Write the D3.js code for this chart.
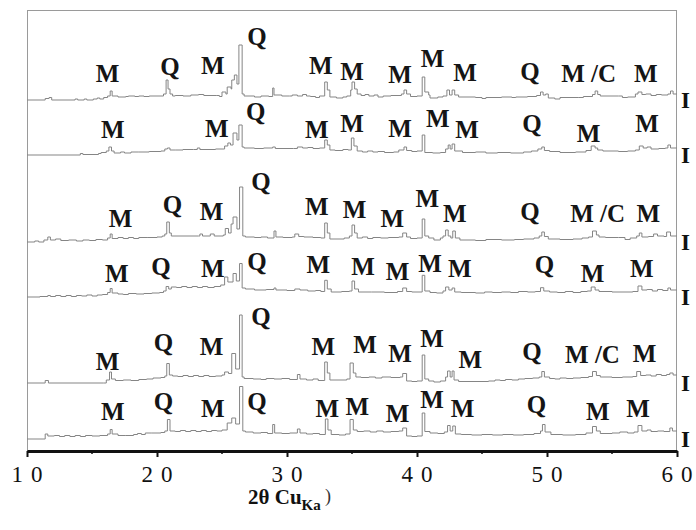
<!DOCTYPE html>
<html>
<head>
<meta charset="utf-8">
<script src="https://cdn.jsdelivr.net/npm/d3@7/dist/d3.min.js"></script>
<style>
  body { margin: 0; background: #fff; }
  svg { display: block; }
</style>
</head>
<body>
<svg id="chart" width="696" height="530"></svg>
<script>
// XRD patterns: [2θ (deg), intensity (counts above the pattern's own zero)]
const pattern1 = [[10.0,0],[11.4,15],[11.7,25],[11.9,0],[13.7,10],[13.9,0],[14.4,10],[14.6,0],[15.1,10],[15.4,20],[15.6,10],[15.9,25],[16.2,40],[16.4,90],[16.55,40],[17.0,30],[17.6,35],[17.8,40],[18.3,35],[18.6,40],[19.0,35],[19.4,40],[20.0,40],[20.5,60],[20.7,200],[20.85,110],[21.0,60],[21.2,40],[21.4,45],[22.0,40],[22.6,50],[23.2,55],[23.6,45],[24.6,45],[24.8,35],[25.0,80],[25.3,60],[25.4,130],[25.7,110],[25.75,200],[25.95,250],[26.15,160],[26.3,550],[26.55,60],[26.7,40],[27.5,30],[28.0,40],[28.6,35],[28.9,120],[29.0,50],[29.6,40],[30.2,40],[30.4,50],[30.8,40],[31.2,55],[31.5,40],[31.8,35],[32.2,25],[32.5,40],[32.9,180],[33.1,100],[33.3,30],[33.8,20],[34.3,30],[34.6,40],[34.9,100],[35.0,180],[35.2,110],[35.4,60],[35.7,45],[36.0,55],[36.3,40],[36.7,50],[37.0,30],[37.4,40],[38.0,45],[38.8,60],[39.0,100],[39.2,60],[39.5,35],[40.0,40],[40.4,230],[40.6,80],[40.9,50],[41.0,20],[41.6,30],[42.0,40],[42.3,100],[42.5,50],[42.7,100],[42.9,50],[43.2,30],[44.5,25],[45.0,15],[45.3,25],[46.5,30],[47.3,25],[47.6,30],[48.5,35],[49.2,45],[49.5,80],[49.7,50],[49.9,60],[50.1,20],[50.6,10],[51.0,25],[52.4,25],[52.8,35],[53.5,55],[53.7,90],[53.9,55],[54.1,40],[55.5,40],[55.8,25],[56.2,30],[56.8,60],[57.0,80],[57.3,55],[57.6,60],[58.0,45],[58.4,55],[58.8,50],[59.3,60],[59.5,90],[59.7,60],[60.0,60]];

const pattern2 = [[10.0,0],[14.0,0],[14.1,15],[14.3,5],[15.5,15],[15.7,25],[16.1,40],[16.3,80],[16.5,40],[16.7,20],[17.2,30],[17.5,20],[18.0,30],[18.6,30],[19.4,35],[20.3,40],[20.6,60],[20.8,70],[21.0,50],[21.4,50],[22.0,55],[22.8,55],[23.1,70],[23.3,55],[24.5,60],[25.2,90],[25.45,120],[25.65,100],[25.85,220],[26.15,150],[26.3,300],[26.55,80],[26.7,70],[27.5,65],[28.2,70],[28.9,80],[29.1,65],[30.5,65],[30.8,80],[31.2,70],[31.6,75],[32.0,65],[32.5,70],[32.9,150],[33.1,100],[33.3,50],[33.7,45],[34.3,55],[34.7,50],[34.95,170],[35.15,90],[35.4,40],[35.8,30],[36.2,40],[36.6,30],[37.0,35],[37.5,25],[38.2,30],[38.6,50],[39.0,80],[39.2,45],[39.6,35],[40.0,40],[40.4,200],[40.6,25],[41.2,20],[41.8,25],[42.2,60],[42.4,100],[42.55,60],[42.7,110],[42.9,40],[43.5,25],[44.5,30],[45.3,20],[46.2,25],[47.2,20],[48.2,30],[48.8,40],[49.3,60],[49.6,80],[49.8,45],[50.2,35],[51.0,25],[52.2,30],[53.0,45],[53.4,90],[53.7,70],[53.9,50],[54.3,40],[55.5,35],[56.2,40],[56.8,50],[57.1,90],[57.4,70],[57.7,80],[58.0,60],[58.6,65],[59.1,70],[59.3,100],[59.5,70],[60.0,70]];

const pattern3 = [[10.0,0],[10.6,10],[10.9,0],[11.3,20],[11.6,50],[11.8,20],[12.2,30],[12.6,15],[13.2,20],[13.8,10],[14.3,20],[14.8,15],[15.3,25],[15.8,20],[16.2,40],[16.4,80],[16.55,35],[17.0,45],[17.4,35],[17.8,45],[18.2,35],[18.6,45],[19.3,45],[20.0,50],[20.4,60],[20.6,80],[20.75,200],[20.95,90],[21.1,60],[22.0,60],[23.2,60],[23.3,80],[23.5,60],[24.0,60],[24.1,80],[24.4,60],[25.1,70],[25.25,135],[25.5,90],[25.7,180],[25.85,250],[26.15,130],[26.35,550],[26.6,60],[26.8,50],[27.5,45],[28.0,50],[28.5,40],[29.0,110],[29.15,50],[29.7,45],[30.4,50],[30.6,80],[30.9,55],[31.3,50],[32.0,45],[32.6,40],[32.9,190],[33.1,90],[33.3,30],[34.0,30],[34.4,40],[34.8,60],[35.0,170],[35.2,90],[35.4,40],[35.8,50],[36.2,35],[36.6,45],[37.2,40],[37.8,45],[38.6,50],[38.9,90],[39.2,50],[39.5,35],[40.0,40],[40.4,230],[40.6,60],[40.9,40],[41.3,20],[41.8,40],[42.0,60],[42.2,120],[42.4,60],[42.6,40],[42.75,110],[42.95,40],[43.3,20],[44.5,15],[45.3,25],[46.5,20],[47.5,25],[48.2,30],[49.0,40],[49.4,60],[49.6,100],[49.8,55],[50.1,30],[51.0,25],[52.0,30],[52.7,40],[53.2,50],[53.5,110],[53.8,70],[54.0,50],[54.5,45],[55.5,45],[56.0,25],[56.4,40],[56.9,60],[57.1,90],[57.3,50],[57.8,55],[58.2,80],[58.5,60],[59.0,55],[59.2,100],[59.5,60],[60.0,60]];

const pattern4 = [[10.0,0],[11.0,5],[11.6,15],[11.8,5],[12.2,15],[12.6,5],[13.0,15],[13.4,5],[13.8,15],[14.2,10],[14.6,20],[15.0,10],[15.4,20],[15.8,25],[16.2,45],[16.4,85],[16.55,40],[17.0,30],[17.4,25],[17.8,35],[18.4,30],[19.0,35],[19.6,40],[20.2,45],[20.5,60],[20.7,105],[20.9,80],[21.1,100],[21.5,95],[21.9,105],[22.3,95],[22.7,105],[23.1,95],[23.5,105],[23.9,95],[24.4,105],[24.9,120],[25.2,200],[25.45,150],[25.85,235],[26.1,160],[26.35,335],[26.55,90],[26.8,80],[27.5,70],[28.4,75],[29.0,90],[29.15,70],[30.0,65],[30.6,80],[31.0,70],[31.6,60],[32.2,65],[32.6,55],[32.9,167],[33.1,80],[33.4,50],[34.2,55],[34.8,60],[35.0,160],[35.2,80],[35.5,50],[36.5,50],[37.5,45],[38.5,55],[38.9,90],[39.2,55],[39.6,50],[40.0,50],[40.4,217],[40.6,60],[41.0,45],[41.5,40],[42.0,60],[42.2,100],[42.45,70],[42.7,90],[42.9,50],[43.4,45],[44.5,40],[45.2,50],[45.8,45],[46.5,50],[47.2,45],[47.8,55],[48.5,50],[49.1,55],[49.5,93],[49.75,60],[50.2,50],[50.8,45],[51.4,55],[52.0,45],[52.6,55],[53.1,60],[53.4,100],[53.7,70],[54.0,55],[55.0,50],[56.0,50],[56.6,55],[57.0,110],[57.3,70],[57.7,75],[58.1,60],[58.5,75],[58.9,65],[59.3,90],[59.5,70],[60.0,70]];

const pattern5 = [[10.0,0],[11.4,25],[11.65,0],[15.9,0],[16.1,30],[16.35,110],[16.5,40],[16.8,25],[17.4,30],[18.0,25],[18.6,35],[19.2,40],[19.7,50],[20.3,55],[20.6,70],[20.75,195],[20.95,80],[21.2,70],[21.6,65],[22.0,75],[22.4,65],[22.8,75],[23.2,65],[23.6,75],[24.0,65],[24.5,70],[25.0,80],[25.2,110],[25.5,95],[25.75,295],[26.05,140],[26.35,680],[26.55,60],[26.7,45],[27.4,40],[28.0,35],[28.4,45],[29.0,40],[29.6,45],[30.2,35],[30.8,85],[31.0,40],[31.5,30],[32.0,40],[32.4,25],[32.9,210],[33.1,100],[33.3,30],[34.0,30],[34.6,40],[34.85,200],[35.1,100],[35.3,60],[35.7,55],[36.3,60],[36.8,50],[37.3,60],[38.0,55],[38.7,60],[38.9,95],[39.2,20],[39.6,15],[40.0,20],[40.4,280],[40.6,40],[40.9,20],[41.3,10],[41.8,20],[42.2,60],[42.35,120],[42.55,60],[42.7,120],[42.85,30],[43.2,15],[45.0,15],[45.5,20],[46.0,30],[46.4,25],[46.8,35],[47.3,30],[47.8,40],[48.3,45],[48.9,50],[49.4,60],[49.6,115],[49.8,60],[50.2,45],[50.6,40],[51.0,50],[51.5,45],[52.0,50],[52.6,55],[53.2,65],[53.5,115],[53.8,75],[54.1,60],[55.0,55],[55.8,60],[56.6,65],[56.9,115],[57.2,75],[57.6,80],[58.0,70],[58.4,85],[58.8,75],[59.2,85],[59.45,100],[59.7,80],[60.0,80]];

const pattern6 = [[10.0,0],[11.4,50],[11.6,30],[12.1,35],[12.5,25],[12.9,35],[13.3,25],[13.7,35],[14.1,25],[14.5,35],[15.0,30],[15.6,35],[16.2,50],[16.4,95],[16.55,50],[17.0,35],[17.6,35],[18.2,45],[18.5,55],[18.8,45],[19.1,60],[19.6,60],[20.3,65],[20.6,80],[20.8,195],[21.0,80],[21.4,75],[21.8,85],[22.2,75],[22.6,85],[23.0,75],[23.4,85],[23.8,75],[24.2,85],[24.6,80],[25.0,90],[25.4,160],[25.75,210],[26.05,150],[26.35,525],[26.6,80],[26.8,70],[27.4,60],[28.0,65],[28.5,55],[28.9,145],[29.05,60],[29.6,55],[30.2,60],[30.8,100],[31.0,60],[31.5,50],[32.0,55],[32.5,45],[32.95,200],[33.15,90],[33.4,45],[34.0,40],[34.5,50],[34.85,195],[35.1,90],[35.4,75],[35.9,80],[36.4,70],[36.9,80],[37.4,70],[38.0,75],[38.6,80],[38.9,110],[39.2,30],[39.6,25],[40.0,30],[40.4,260],[40.6,75],[41.0,60],[41.6,55],[42.1,70],[42.35,135],[42.55,80],[42.75,130],[42.95,50],[43.4,45],[44.2,40],[45.0,45],[45.8,40],[46.6,45],[47.4,40],[48.2,45],[49.0,55],[49.5,80],[49.65,145],[49.85,70],[50.3,45],[51.2,40],[52.2,45],[53.0,60],[53.5,125],[53.8,80],[54.1,55],[55.0,60],[55.6,70],[56.2,60],[56.7,70],[57.0,135],[57.3,80],[57.7,90],[58.0,75],[58.5,80],[59.0,75],[59.45,110],[59.65,80],[60.0,80]];

const patterns = [pattern1, pattern2, pattern3, pattern4, pattern5, pattern6];

// vertical stacking offset of each pattern (counts)
const offsets = [3510, 2960, 2090, 1540, 680, 120];

// sample names at the right edge of each pattern
const sampleNames = ["I", "I", "I", "I", "I", "I"];

// phase markers per pattern: [phase, 2θ, intensity level]
const phases1 = [["M",16.2,180],["Q",21.0,250],["M",24.3,260],["Q",27.7,550],["M",32.6,260],["M",35.0,200],["M",38.7,170],["M",41.2,330],["M",43.7,190],["Q",48.7,200],["M /C",53.2,180],["M",57.6,180]];
const phases2 = [["M",16.6,170],["M",24.6,180],["Q",27.6,350],["M",32.3,170],["M",35.0,230],["M",38.7,180],["M",41.6,280],["M",43.85,170],["Q",48.85,230],["M",53.2,130],["M",57.7,230]];
const phases3 = [["M",17.2,150],["Q",21.2,290],["M",24.2,220],["Q",28.0,520],["M",32.3,270],["M",35.2,240],["M",38.1,150],["M",40.8,350],["M",42.9,200],["Q",48.7,220],["M /C",53.9,200],["M",57.8,200]];
const phases4 = [["M",16.9,150],["Q",20.3,220],["M",24.3,200],["Q",27.7,270],["M",32.4,240],["M",35.85,220],["M",38.5,170],["M",41.0,250],["M",43.3,200],["Q",49.8,240],["M",53.5,150],["M",57.3,200]];
const phases5 = [["M",16.2,130],["Q",20.5,320],["M",24.2,280],["Q",28.0,580],["M",32.8,280],["M",36.0,300],["M",38.7,210],["M",41.15,360],["M",44.1,150],["Q",48.85,230],["M /C",53.5,200],["M",57.5,210]];
const phases6 = [["M",16.6,190],["Q",20.5,290],["M",24.3,220],["Q",27.7,290],["M",33.1,220],["M",35.4,240],["M",38.5,170],["M",41.15,310],["M",43.5,220],["Q",49.2,260],["M",53.9,190],["M",57.0,220]];
const phaseSets = [phases1, phases2, phases3, phases4, phases5, phases6];

// x axis ticks
const majorTicks = [10, 20, 30, 40, 50, 60];
const minorTicks = [15, 25, 35, 45, 55];

const svg = d3.select("#chart");
const serif = "'Liberation Serif', 'Times New Roman', serif";

const x = d3.scaleLinear().domain([10, 60]).range([27, 677]);
const y = d3.scaleLinear().domain([0, 4410]).range([451, 10]);

// plot frame (top, left, right)
const frame = svg.append("g").attr("stroke", "#9a9a9a").attr("stroke-width", 1).attr("fill", "none");
frame.append("line").attr("x1", x(10)).attr("x2", x(60)).attr("y1", y(4410) + 0.5).attr("y2", y(4410) + 0.5);
frame.append("line").attr("x1", x(10) + 0.5).attr("x2", x(10) + 0.5).attr("y1", y(4410)).attr("y2", y(0));
frame.append("line").attr("x1", x(60) - 0.5).attr("x2", x(60) - 0.5).attr("y1", y(4410)).attr("y2", y(0));

// diffraction patterns
const line = d3.line().curve(d3.curveStepAfter);
patterns.forEach((p, i) => {
  line.x(d => x(d[0])).y(d => y(offsets[i] + d[1]));
  svg.append("path")
    .datum(p)
    .attr("d", line)
    .attr("fill", "none")
    .attr("stroke", "#858585")
    .attr("stroke-width", 1);
});

// phase markers
phaseSets.forEach((set, i) => {
  svg.append("g")
    .selectAll("text")
    .data(set)
    .join("text")
    .attr("x", d => x(d[1]))
    .attr("y", d => y(offsets[i] + d[2]))
    .attr("text-anchor", "middle")
    .attr("font-family", serif)
    .attr("font-weight", "bold")
    .attr("font-size", 25)
    .attr("fill", "#151515")
    .text(d => d[0]);
});

// sample names
svg.append("g")
  .selectAll("text")
  .data(sampleNames)
  .join("text")
  .attr("x", 681)
  .attr("y", (d, i) => y(offsets[i]) + 8)
  .attr("font-family", serif)
  .attr("font-weight", "bold")
  .attr("font-size", 23)
  .attr("fill", "#111")
  .text(d => d);

// x axis
const axis = svg.append("g").attr("transform", `translate(0,${y(0)})`);
axis.call(d3.axisBottom(x).tickValues(majorTicks).tickSize(6).tickSizeOuter(0).tickFormat(""));
axis.select(".domain").attr("stroke", "#111").attr("stroke-width", 2.8);
axis.selectAll(".tick line").attr("stroke", "#111").attr("stroke-width", 2);
axis.selectAll(".minor")
  .data(minorTicks)
  .join("line")
  .attr("class", "minor")
  .attr("x1", d => x(d)).attr("x2", d => x(d))
  .attr("y1", 0).attr("y2", 3)
  .attr("stroke", "#111").attr("stroke-width", 1.5);

// tick labels with spaced-out digits
const tickLabels = svg.append("g")
  .selectAll("text")
  .data(majorTicks)
  .join("text")
  .attr("x", d => x(d))
  .attr("y", 482)
  .attr("text-anchor", "middle")
  .attr("font-family", serif)
  .attr("font-size", 23)
  .attr("fill", "#111");
tickLabels.each(function(d) {
  const chars = String(d).split("");
  const t = d3.select(this);
  chars.forEach((c, k) => t.append("tspan").attr("dx", k ? 8 : 0).text(c));
});

// axis title
const title = svg.append("text")
  .attr("x", 248)
  .attr("y", 504)
  .attr("font-family", serif)
  .attr("font-weight", "bold")
  .attr("font-size", 21)
  .attr("fill", "#111");
title.append("tspan").text("2θ Cu");
title.append("tspan").attr("font-size", 15).attr("dy", 6).text("Ka");
svg.append("text")
  .attr("x", 325)
  .attr("y", 502)
  .attr("font-family", serif)
  .attr("font-size", 18)
  .attr("fill", "#333")
  .text(")");
</script>
</body>
</html>
